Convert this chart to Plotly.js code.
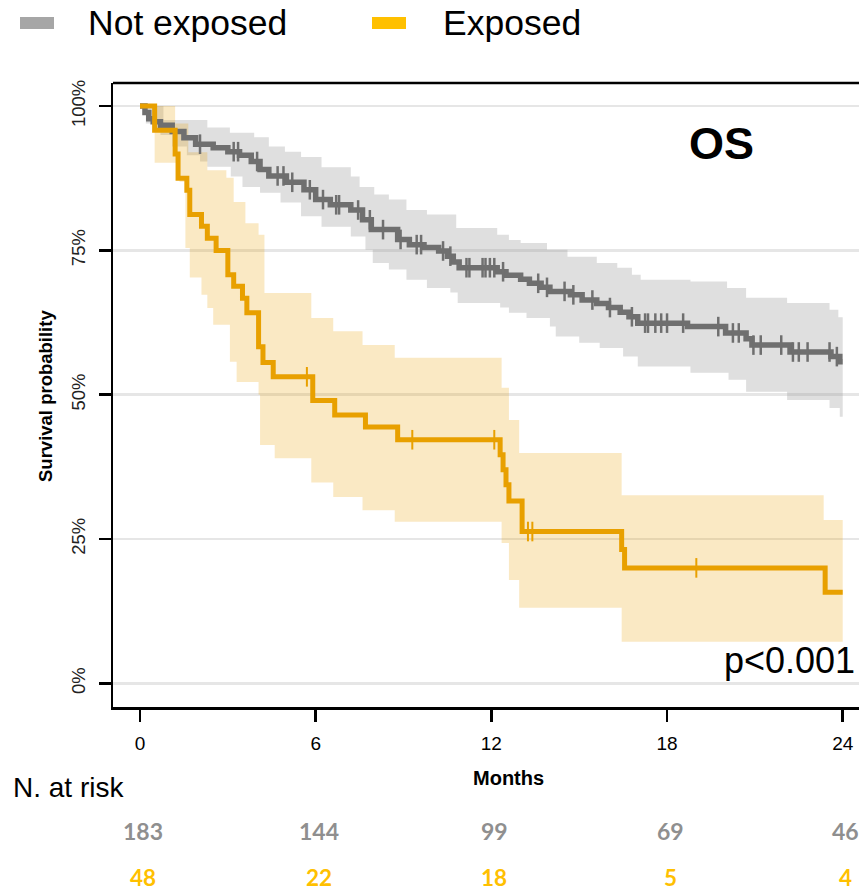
<!DOCTYPE html>
<html>
<head>
<meta charset="utf-8">
<script src="https://cdn.plot.ly/plotly-3.0.1.min.js"></script>
<style>html,body{margin:0;padding:0;background:#fff;overflow:hidden}</style>
</head>
<body>
<div id="chart" style="width:859px;height:890px"></div>
<script>
// ---- Data ----
const groupNames = ['Not exposed', 'Exposed'];

const notExpTime = [0,0.17,0.3,0.45,0.7,1.1,1.5,1.9,2.5,3.0,3.4,3.8,4.1,4.4,5.0,5.6,6.0,6.5,7.2,7.6,7.9,8.8,9.2,9.7,10.2,10.5,10.7,10.9,12.2,12.5,13.0,13.3,13.7,14.0,14.7,15.1,15.6,16.0,16.4,16.7,17.0,18.7,20.0,20.7,20.9,22.2,23.6,23.9,24];
const notExpSurv = [1,0.989,0.978,0.973,0.967,0.956,0.945,0.934,0.928,0.921,0.915,0.904,0.89,0.879,0.868,0.855,0.838,0.829,0.82,0.803,0.786,0.769,0.76,0.755,0.749,0.74,0.73,0.72,0.713,0.707,0.7,0.693,0.686,0.679,0.673,0.664,0.658,0.651,0.643,0.635,0.624,0.618,0.607,0.597,0.586,0.574,0.566,0.557,0.557];

const notExpUpTime = [0,0.8,2.3,3.07,3.9,4.4,4.95,5.5,6.2,7.2,7.5,8.0,8.5,9.1,9.8,10.8,12.2,12.6,13.0,13.9,14.6,15.6,16.3,16.8,17.1,18.8,20.05,20.7,22.1,23.55,23.85,24];
const notExpUp = [1,0.976,0.963,0.954,0.946,0.93,0.921,0.912,0.894,0.878,0.86,0.847,0.838,0.82,0.812,0.789,0.777,0.768,0.763,0.751,0.739,0.728,0.72,0.708,0.699,0.696,0.685,0.668,0.659,0.647,0.634,0.634];

const notExpLoTime = [0,0.2,0.7,1.1,1.6,2.05,2.3,3.1,3.5,4.1,4.8,5.5,6.2,7.2,7.7,7.95,8.5,9.1,9.8,10.6,10.85,12.3,12.6,13.2,14.0,14.2,15.0,15.7,16.5,17.0,18.8,20.1,20.7,22.1,23.55,23.9,24];
const notExpLo = [1,0.97,0.95,0.93,0.915,0.904,0.895,0.878,0.86,0.85,0.833,0.809,0.791,0.774,0.751,0.728,0.717,0.699,0.685,0.677,0.659,0.651,0.642,0.633,0.618,0.601,0.59,0.581,0.566,0.549,0.538,0.526,0.505,0.491,0.477,0.462,0.462];

const notExpCensor = [2.05,3.2,3.35,4.0,4.7,4.9,5.2,5.8,6.25,6.7,6.8,7.45,7.85,8.3,8.9,9.45,9.6,10.35,10.6,11.15,11.25,11.7,11.8,11.95,12.1,12.4,13.6,13.9,14.5,14.8,15.45,16.05,16.8,17.25,17.35,17.6,17.8,18.0,18.55,19.75,20.25,20.45,20.95,21.2,21.9,22.3,22.5,22.8,23.55,23.8];

const expTime = [0,0.5,1.2,1.3,1.6,1.7,2.1,2.3,2.6,3.0,3.2,3.5,3.65,4.05,4.2,4.55,5.9,6.65,7.7,8.8,12.3,12.4,12.5,12.6,13.05,16.45,16.55,23.4,24];
const expSurv = [1,0.958,0.917,0.875,0.854,0.812,0.792,0.771,0.75,0.708,0.688,0.667,0.642,0.583,0.556,0.531,0.49,0.465,0.444,0.422,0.396,0.37,0.344,0.316,0.263,0.232,0.2,0.158,0.158];

const expUpTime = [0,1.2,1.65,2.3,2.95,3.2,3.6,4.05,4.25,5.85,6.6,7.6,8.7,12.35,12.6,12.95,16.45,23.35,24];
const expUp = [1,0.97,0.92,0.889,0.876,0.834,0.797,0.777,0.676,0.633,0.61,0.586,0.564,0.512,0.456,0.399,0.326,0.283,0.283];

const expLoTime = [0,0.5,1.35,1.55,1.7,2.1,2.3,2.5,3.07,3.3,4.05,4.1,4.6,5.85,6.6,7.6,8.7,12.35,12.6,12.95,16.45,24];
const expLo = [1,0.902,0.869,0.754,0.703,0.673,0.65,0.621,0.557,0.522,0.5,0.413,0.39,0.348,0.323,0.3,0.28,0.243,0.179,0.131,0.072,0.072];

const expCensor = [5.7,9.3,12.1,13.25,13.4,19.0];

const xTickVals = [0,6,12,18,24];
const xTickText = ['0','6','12','18','24'];
const yTickVals = [0,0.25,0.5,0.75,1];
const yTickText = ['0%','25%','50%','75%','100%'];
const riskNotExp = [183,144,99,69,46];
const riskExp = [48,22,18,5,4];

// ---- Styles ----
const grayLine = '#6f6f6f';
const orangeLine = '#e8a000';
const grayBand = 'rgba(150,150,150,0.30)';
const orangeBand = 'rgba(232,160,0,0.23)';
const legendGray = '#a6a6a6';
const legendOrange = '#ffc000';
const riskGray = '#8f8f8f';
const riskOrange = '#ffc000';
const FONT = 'Liberation Sans, Arial, sans-serif';
const RISKFONT = 'Lato, Open Sans, sans-serif';

function survAt(times, surv, t) {
  let v = surv[0];
  for (let i = 0; i < times.length; i++) { if (times[i] <= t) v = surv[i]; }
  return v;
}

// pixel -> paper helpers (plot area 113..859 x, 83..707 y)
const PL = 113, PR = 859, PT = 83, PB = 707;
const px = x => (x - PL) / (PR - PL);
const py = y => (PB - y) / (PB - PT);

const traces = [
  {x: notExpLoTime, y: notExpLo, mode: 'lines', line: {shape: 'hv', width: 0, color: grayBand}, hoverinfo: 'skip', showlegend: false},
  {x: notExpUpTime, y: notExpUp, mode: 'lines', line: {shape: 'hv', width: 0, color: grayBand}, fill: 'tonexty', fillcolor: grayBand, hoverinfo: 'skip', showlegend: false},
  {x: expLoTime, y: expLo, mode: 'lines', line: {shape: 'hv', width: 0, color: orangeBand}, hoverinfo: 'skip', showlegend: false},
  {x: expUpTime, y: expUp, mode: 'lines', line: {shape: 'hv', width: 0, color: orangeBand}, fill: 'tonexty', fillcolor: orangeBand, hoverinfo: 'skip', showlegend: false},
  {x: notExpTime, y: notExpSurv, mode: 'lines', name: groupNames[0], line: {shape: 'hv', width: 5.5, color: grayLine}, showlegend: false},
  {x: notExpCensor, y: notExpCensor.map(t => survAt(notExpTime, notExpSurv, t)), mode: 'markers', marker: {symbol: 'line-ns', size: 14, line: {width: 2.5, color: grayLine}, color: grayLine}, showlegend: false},
  {x: expTime, y: expSurv, mode: 'lines', name: groupNames[1], line: {shape: 'hv', width: 5, color: orangeLine}, showlegend: false},
  {x: expCensor, y: expCensor.map(t => survAt(expTime, expSurv, t)), mode: 'markers', marker: {symbol: 'line-ns', size: 14, line: {width: 2, color: orangeLine}, color: orangeLine}, showlegend: false}
];

const annotations = [
  {xref: 'paper', yref: 'paper', x: px(86), y: py(23), xanchor: 'left', yanchor: 'middle', text: groupNames[0], showarrow: false, font: {family: FONT, size: 35.5, color: '#000'}},
  {xref: 'paper', yref: 'paper', x: px(441), y: py(23), xanchor: 'left', yanchor: 'middle', text: groupNames[1], showarrow: false, font: {family: FONT, size: 35.5, color: '#000'}},
  {xref: 'paper', yref: 'paper', x: px(721), y: py(143), xanchor: 'center', yanchor: 'middle', text: '<b>OS</b>', showarrow: false, font: {family: FONT, size: 45, color: '#000'}},
  {xref: 'paper', yref: 'paper', x: px(857), y: py(660), xanchor: 'right', yanchor: 'middle', text: 'p<0.001', showarrow: false, font: {family: FONT, size: 36, color: '#000'}},
  {xref: 'paper', yref: 'paper', x: px(45), y: py(396), xanchor: 'center', yanchor: 'middle', textangle: -90, text: '<b>Survival probability</b>', showarrow: false, font: {family: FONT, size: 18.5, color: '#000'}},
  {xref: 'paper', yref: 'paper', x: px(508), y: py(777.5), xanchor: 'center', yanchor: 'middle', text: '<b>Months</b>', showarrow: false, font: {family: FONT, size: 20, color: '#000'}},
  {xref: 'paper', yref: 'paper', x: px(11), y: py(787), xanchor: 'left', yanchor: 'middle', text: 'N. at risk', showarrow: false, font: {family: FONT, size: 28, color: '#000'}}
];
xTickVals.forEach((t, i) => {
  annotations.push({xref: 'x', yref: 'paper', x: t, y: py(831), xshift: 3, xanchor: 'center', yanchor: 'middle', text: '<b>' + riskNotExp[i] + '</b>', showarrow: false, font: {family: RISKFONT, size: 23, color: riskGray}});
  annotations.push({xref: 'x', yref: 'paper', x: t, y: py(877), xshift: 3, xanchor: 'center', yanchor: 'middle', text: '<b>' + riskExp[i] + '</b>', showarrow: false, font: {family: RISKFONT, size: 22.5, color: riskOrange}});
});

const shapes = [
  {type: 'rect', xref: 'paper', yref: 'paper', x0: px(20), x1: px(54), y0: py(29), y1: py(17), fillcolor: legendGray, line: {width: 0}},
  {type: 'rect', xref: 'paper', yref: 'paper', x0: px(372), x1: px(406), y0: py(29), y1: py(17), fillcolor: legendOrange, line: {width: 0}},
  {type: 'line', xref: 'paper', yref: 'paper', x0: 0, x1: 1.05, y0: 1, y1: 1, line: {color: '#000', width: 2.5}}
];

const layout = {
  width: 859, height: 890,
  margin: {l: PL, r: 859 - PR, t: PT, b: 890 - PB, pad: 0},
  paper_bgcolor: '#fff', plot_bgcolor: '#fff',
  showlegend: false,
  xaxis: {
    range: [-0.922, 24.556], tickvals: xTickVals, ticktext: xTickText,
    showgrid: false, zeroline: false, showline: true, linecolor: '#000', linewidth: 2.5,
    ticks: 'outside', ticklen: 12, tickwidth: 2.5, tickcolor: '#000',
    tickfont: {family: FONT, size: 19, color: '#000'}, ticklabelstandoff: 6
  },
  yaxis: {
    range: [-0.041, 1.040], tickvals: yTickVals, ticktext: yTickText, tickangle: -90,
    showgrid: true, gridcolor: '#e6e6e6', gridwidth: 2.5, zeroline: false,
    showline: true, linecolor: '#000', linewidth: 2.5,
    ticks: 'outside', ticklen: 12, tickwidth: 2.5, tickcolor: '#000',
    tickfont: {family: FONT, size: 18.5, color: '#222'}, ticklabelstandoff: 6
  },
  annotations: annotations,
  shapes: shapes
};

Plotly.newPlot('chart', traces, layout, {displayModeBar: false, staticPlot: true});
</script>
</body>
</html>
